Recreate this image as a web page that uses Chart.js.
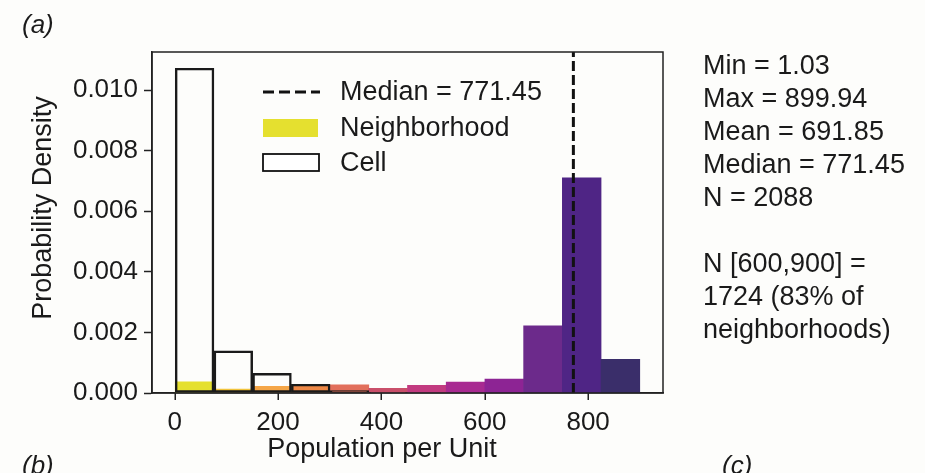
<!DOCTYPE html>
<html><head><meta charset="utf-8">
<script src="https://cdn.jsdelivr.net/npm/chart.js@4.4.1/dist/chart.umd.min.js"></script>
<style>
html,body{margin:0;padding:0;background:#fdfdfb;}
#wrap{position:relative;width:925px;height:473px;overflow:hidden;}
canvas{display:block}
</style></head><body>
<div id="wrap"><canvas id="c" width="925" height="473"></canvas></div>
<script>
// ---- data ----
const binEdges = [1.03, 75.94, 150.85, 225.76, 300.67, 375.58, 450.48, 525.39, 600.30, 675.21, 750.12, 825.03, 899.94];
const neighborhoodDensity = [0.00037, 0.00013, 0.00022, 0.00025, 0.00027, 0.000155, 0.00025, 0.00036, 0.00046, 0.00222, 0.0071, 0.00111];
const cellDensity = [0.01072, 0.00139, 0.00065, 0.00029, 0.00008, 0.00002, null, null, null, null, null, null];
const neighborhoodColors = ['#e5e02f', '#f2c43b', '#f5a647', '#ee8846', '#e26f5b', '#c94f6a', '#c23b80', '#a82a91', '#8d2494', '#6c2a8b', '#4f2585', '#3a2e6a'];
const medianValue = 771.45;
const xTicks = [0, 200, 400, 600, 800];
const yTicks = [0, 0.002, 0.004, 0.006, 0.008, 0.010];
const legendLabels = ['Median = 771.45', 'Neighborhood', 'Cell'];
const statsLines = ['Min = 1.03', 'Max = 899.94', 'Mean = 691.85', 'Median = 771.45', 'N = 2088', '', 'N [600,900] =', '1724 (83% of', 'neighborhoods)'];
const panelLabels = ['(a)', '(b)', '(c)'];
const xTitle = 'Population per Unit';
const yTitle = 'Probability Density';

// ---- derived ----
const binCenters = binEdges.slice(0, -1).map((e, i) => (e + binEdges[i + 1]) / 2);
const yMax = Math.max(...cellDensity.filter(v => v !== null)) * 1.05;
const xPad = (binEdges[binEdges.length - 1] - binEdges[0]) * 0.05;
const xMin = binEdges[0] - xPad, xMax = binEdges[binEdges.length - 1] + xPad;

const FONT = 'Liberation Sans, Arial, sans-serif';
const TXT = '#1a1a1a';

const decor = {
  id: 'decor',
  afterDraw(chart) {
    const ctx = chart.ctx, a = chart.chartArea, xs = chart.scales.x;
    ctx.save();
    // frame
    ctx.strokeStyle = '#222'; ctx.lineWidth = 1.5;
    ctx.strokeRect(a.left, a.top, a.right - a.left, a.bottom - a.top);
    // x tick marks (positions from the scale)
    ctx.beginPath();
    xTicks.forEach(v => { const px = Math.round(xs.getPixelForValue(v)) + 0.25; ctx.moveTo(px, a.bottom); ctx.lineTo(px, a.bottom + 7); });
    ctx.stroke();
    // legend
    ctx.fillStyle = TXT; ctx.font = '27px ' + FONT; ctx.textBaseline = 'alphabetic'; ctx.textAlign = 'left';
    ctx.setLineDash([11, 5]); ctx.lineWidth = 3; ctx.strokeStyle = '#111';
    ctx.beginPath(); ctx.moveTo(263, 92); ctx.lineTo(320, 92); ctx.stroke();
    ctx.setLineDash([]);
    ctx.fillText(legendLabels[0], 340, 100);
    ctx.fillStyle = neighborhoodColors[0]; ctx.fillRect(263, 119, 55, 18);
    ctx.fillStyle = TXT; ctx.fillText(legendLabels[1], 340, 136);
    ctx.fillStyle = '#fff'; ctx.fillRect(263, 154, 56, 17);
    ctx.strokeStyle = '#111'; ctx.lineWidth = 1.8; ctx.strokeRect(263, 154, 56, 17);
    ctx.fillStyle = TXT; ctx.fillText(legendLabels[2], 340, 171);
    // stats text
    statsLines.forEach((t, i) => { if (t) ctx.fillText(t, 703, 74 + i * 33); });
    // axis titles
    ctx.textAlign = 'center';
    ctx.fillText(xTitle, 382, 457);
    ctx.save(); ctx.translate(51, 208); ctx.rotate(-Math.PI / 2);
    ctx.fillText(yTitle, 0, 0); ctx.restore();
    // panel labels
    ctx.textAlign = 'left'; ctx.font = 'italic 26px ' + FONT;
    ctx.fillText(panelLabels[0], 22, 33);
    ctx.fillText(panelLabels[1], 22, 474);
    ctx.fillText(panelLabels[2], 722, 474);
    ctx.restore();
  }
};

new Chart(document.getElementById('c'), {
  type: 'scatter',
  data: {
    datasets: [
      {
        type: 'line', label: legendLabels[0],
        data: [{ x: medianValue, y: 0 }, { x: medianValue, y: yMax }],
        borderColor: '#111', borderWidth: 3, borderDash: [10, 4], pointRadius: 0, order: 0
      },
      {
        type: 'bar', label: legendLabels[2],
        data: binCenters.map((c, i) => ({ x: c, y: cellDensity[i] })),
        backgroundColor: 'rgba(0,0,0,0)', borderColor: '#1a1a1a', borderWidth: 1.8, borderSkipped: false,
        grouped: false, barPercentage: 1, categoryPercentage: 1, order: 1
      },
      {
        type: 'bar', label: legendLabels[1],
        data: binCenters.map((c, i) => ({ x: c, y: neighborhoodDensity[i] })),
        backgroundColor: neighborhoodColors, borderWidth: 0,
        grouped: false, barPercentage: 1, categoryPercentage: 1, order: 2
      }
    ]
  },
  options: {
    responsive: false, animation: false, devicePixelRatio: 1,
    layout: { padding: { left: 0, right: 262, top: 52, bottom: 0 } },
    plugins: { legend: { display: false }, tooltip: { enabled: false } },
    scales: {
      x: {
        type: 'linear', min: xMin, max: xMax, offset: false,
        afterBuildTicks: s => { s.ticks = xTicks.map(v => ({ value: v })); },
        afterFit: s => { s.height = 80; },
        ticks: { font: { family: FONT, size: 26 }, color: TXT, padding: 8, maxRotation: 0, autoSkip: false, callback: v => String(v) },
        grid: { display: true, offset: false, drawOnChartArea: false, drawTicks: true, tickLength: 6, tickColor: 'rgba(0,0,0,0)', tickWidth: 1.5 },
        border: { display: true, color: '#222', width: 1.5 }
      },
      y: {
        type: 'linear', min: 0, max: yMax,
        afterBuildTicks: s => { s.ticks = yTicks.map(v => ({ value: v })); },
        afterFit: s => { s.width = 152; },
        ticks: { font: { family: FONT, size: 26 }, color: TXT, padding: 6, callback: v => v.toFixed(3) },
        grid: { display: true, offset: false, drawOnChartArea: false, drawTicks: true, tickLength: 8, tickColor: '#222', tickWidth: 1.5 },
        border: { display: true, color: '#222', width: 1.5 }
      }
    }
  },
  plugins: [decor]
});
</script>
</body></html>
